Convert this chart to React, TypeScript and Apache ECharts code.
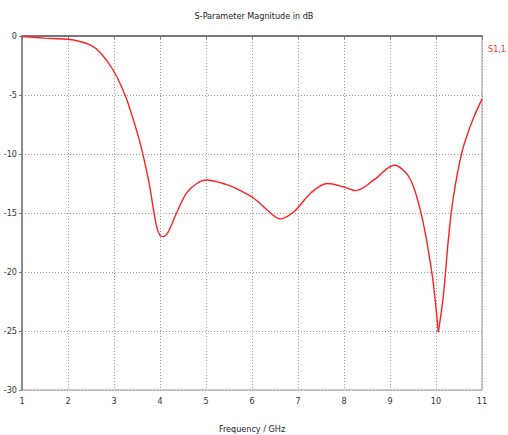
import React, { useEffect, useRef } from "react";
import * as echarts from "echarts";

const freq = [1, 1.5, 1.97, 2.19, 2.48, 2.7, 2.98, 3.24, 3.42, 3.57, 3.75, 3.85, 3.93, 4.0, 4.07, 4.18, 4.36, 4.58, 4.8, 5.01, 5.45, 5.8, 6.04, 6.32, 6.62, 6.91, 7.28, 7.64, 8.0, 8.25, 8.65, 9.1, 9.3, 9.45, 9.58, 9.72, 9.83, 9.94, 10.05, 10.16, 10.27, 10.38, 10.56, 10.74, 10.87, 11.0];
const s11 = [-0.05, -0.18, -0.28, -0.4, -0.76, -1.4, -2.88, -5.0, -7.1, -9.1, -12.2, -14.5, -16.2, -16.9, -17.0, -16.6, -15.0, -13.3, -12.5, -12.2, -12.6, -13.2, -13.75, -14.7, -15.5, -14.9, -13.3, -12.5, -12.8, -13.1, -12.2, -10.95, -11.4, -12.2, -13.6, -15.8, -18.1, -20.9, -25.1, -22.0, -17.2, -13.6, -9.9, -7.7, -6.45, -5.35];
const xTicks = { min: 1, max: 11, step: 1 };
const yTicks = { min: -30, max: 0, step: 5 };
const seriesName = "S1,1";
const titleText = "S-Parameter Magnitude in dB";
const xName = "Frequency / GHz";

export default function App() {
  const ref = useRef<HTMLDivElement>(null);
  useEffect(() => {
    if (!ref.current) return;
    const chart = echarts.init(ref.current, null, { renderer: "svg" });
    const font = "Tahoma, 'DejaVu Sans Condensed', 'Liberation Sans', sans-serif";
    const pts = freq.map((f, i) => [f, s11[i]]);
    // split at the sharp resonance so the V bottom stays pointed
    let minIdx = 0;
    s11.forEach((v, i) => { if (v < s11[minIdx]) minIdx = i; });
    const lineStyle = { color: "#ff2020", width: 1.4 };
    const common = {
      name: seriesName,
      type: "line",
      smooth: 0.35,
      showSymbol: false,
      lineStyle,
      itemStyle: { color: "#ff2020" },
    };
    chart.setOption({
      animation: false,
      backgroundColor: "#ffffff",
      title: {
        text: titleText,
        left: "center",
        top: 6,
        textStyle: { fontSize: 9, fontWeight: "normal", color: "#222", fontFamily: font },
      },
      legend: {
        data: [seriesName],
        icon: "none",
        right: -3,
        top: 37,
        itemWidth: 0,
        itemGap: 0,
        textStyle: { color: "#ff3030", fontSize: 9, fontFamily: font },
      },
      grid: {
        left: 22,
        right: 26,
        top: 36,
        bottom: 45,
        show: true,
        borderColor: "#999",
        borderWidth: 1,
        containLabel: false,
        outerBoundsMode: "none",
      },
      xAxis: {
        type: "value",
        min: xTicks.min,
        max: xTicks.max,
        interval: xTicks.step,
        name: xName,
        nameLocation: "middle",
        nameGap: 34,
        nameTextStyle: { fontSize: 9, color: "#222", fontFamily: font },
        axisLine: { show: true, lineStyle: { color: "#777", width: 2 } },
        axisTick: { show: true, length: 3, lineStyle: { color: "#777" } },
        axisLabel: { fontSize: 9, color: "#333", margin: 6, fontFamily: font },
        splitLine: { show: true, lineStyle: { color: "#999", type: [1, 2], width: 1 } },
      },
      yAxis: {
        type: "value",
        min: yTicks.min,
        max: yTicks.max,
        interval: yTicks.step,
        axisLine: { show: true, lineStyle: { color: "#777", width: 1.5 } },
        axisTick: { show: true, length: 3, lineStyle: { color: "#777" } },
        axisLabel: { fontSize: 9, color: "#333", margin: 5, fontFamily: font },
        splitLine: { show: true, lineStyle: { color: "#999", type: [1, 2], width: 1 } },
      },
      series: [
        { ...common, data: pts.slice(0, minIdx + 1) },
        { ...common, data: pts.slice(minIdx) },
      ],
    });
    return () => chart.dispose();
  }, []);
  return <div ref={ref} style={{ position: "fixed", left: 0, top: 0, width: 508, height: 435 }} />;
}
